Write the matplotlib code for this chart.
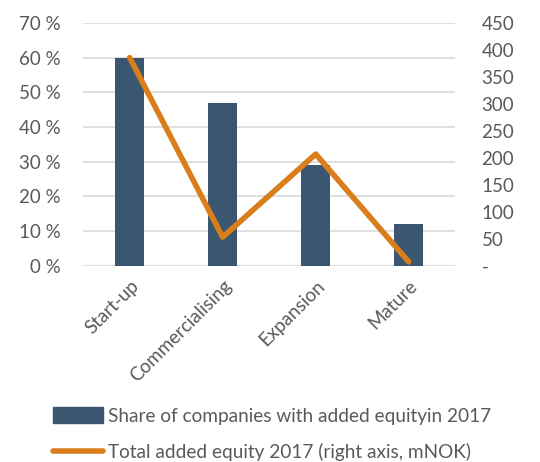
import matplotlib.pyplot as plt
from matplotlib.lines import Line2D
from matplotlib.patches import Patch

# data
stages = ['Start-up', 'Commercialising', 'Expansion', 'Mature']
share_pct = [60, 47, 29, 12]  # share of companies with added equity, %
added_equity = [386, 53, 207, 7]  # total added equity, mNOK (right axis)

left_ticks = [0, 10, 20, 30, 40, 50, 60, 70]
right_ticks = [0, 50, 100, 150, 200, 250, 300, 350, 400, 450]

bar_color = '#3B5671'
line_color = '#D97E1B'
text_color = '#595959'
plt.rcParams['font.family'] = ['Lato', 'DejaVu Sans']

fig = plt.figure(figsize=(5.4, 4.62), dpi=100)
ax = fig.add_axes([0.154, 0.425, 0.689, 0.525])
ax2 = ax.twinx()

x = list(range(len(stages)))
ax.bar(x, share_pct, width=0.31, color=bar_color, zorder=2)
ax2.plot(x, added_equity, color=line_color, linewidth=4, solid_capstyle='round', zorder=3)

ax.set_xlim(-0.5, len(stages) - 0.5)
ax.set_ylim(0, 70)
ax2.set_ylim(0, 450)
ax.set_yticks(left_ticks)
ax.set_yticklabels([f'{v} %' for v in left_ticks])
ax2.set_yticks(right_ticks)
ax2.set_yticklabels(['-' if v == 0 else str(v) for v in right_ticks])
ax.yaxis.grid(True, color='#D9D9D9', linewidth=1.2, zorder=0)
ax.set_axisbelow(True)

ax.set_xticks(x)
ax.set_xticklabels(stages, rotation=45, ha='right', rotation_mode='anchor')

for a in (ax, ax2):
    for s in a.spines.values():
        s.set_visible(False)
    a.tick_params(length=0, labelsize=13.5, colors=text_color)
ax.tick_params(axis='y', pad=16)
ax.tick_params(axis='x', pad=8)
ax2.tick_params(axis='y', pad=19)

handles = [Patch(color=bar_color), Line2D([0], [0], color=line_color, linewidth=4, solid_capstyle='round')]
labels = ['Share of companies with added equityin 2017', 'Total added equity 2017 (right axis, mNOK)']
fig.legend(handles, labels, loc='lower left', bbox_to_anchor=(0.066, -0.035), frameon=False,
           fontsize=13.7, labelcolor=text_color, handlelength=2.65, handletextpad=0.26,
           labelspacing=0.95, handleheight=0.9)

fig.savefig('out.png', dpi=100)
